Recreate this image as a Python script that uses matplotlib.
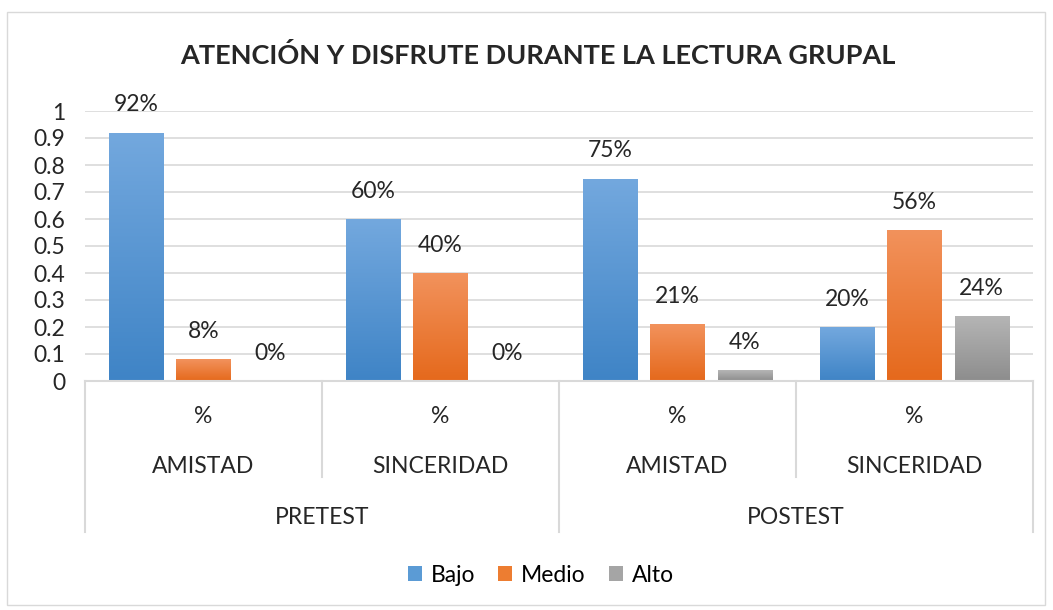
import numpy as np
import matplotlib.pyplot as plt
from matplotlib.patches import Rectangle
from matplotlib.colors import LinearSegmentedColormap

plt.rcParams['font.family'] = ['Lato', 'DejaVu Sans']

# data
groups = ["PRETEST", "POSTEST"]
subcats = ["AMISTAD", "SINCERIDAD", "AMISTAD", "SINCERIDAD"]
series = ["Bajo", "Medio", "Alto"]
bajo = [0.92, 0.60, 0.75, 0.20]
medio = [0.08, 0.40, 0.21, 0.56]
alto = [0.00, 0.00, 0.04, 0.24]
yticks = [0, 0.1, 0.2, 0.3, 0.4, 0.5, 0.6, 0.7, 0.8, 0.9, 1]

# colours (top, bottom) of each bar gradient
grads = [("#73a8de", "#3f84c6"), ("#f2925c", "#e5691c"), ("#b5b5b5", "#8d8d8d")]
solid = ["#5b9bd5", "#ed7d31", "#a5a5a5"]
tc = "#262626"
fs = 16.5

W, H = 1053, 610
fig = plt.figure(figsize=(W / 100, H / 100), dpi=100)
fig.patches.append(Rectangle((7 / W, 5 / H), 1038 / W, 593 / H, transform=fig.transFigure,
                             fill=False, edgecolor="#d9d9d9", linewidth=1))

ax = fig.add_axes([85 / W, (H - 381) / H, 948 / W, 270 / H])
n = len(subcats)
x = np.arange(n)
bw = 0.228
step = 0.283

for k, vals in enumerate([bajo, medio, alto]):
    cmap = LinearSegmentedColormap.from_list("g", [grads[k][1], grads[k][0]])
    for i, v in enumerate(vals):
        xc = x[i] + (k - 1) * step
        if v > 0:
            r = Rectangle((xc - bw / 2, 0), bw, v, facecolor="none", edgecolor="none")
            ax.add_patch(r)
            im = ax.imshow(np.linspace(0, 1, 100).reshape(-1, 1), cmap=cmap, origin="lower",
                           extent=[xc - bw / 2, xc + bw / 2, 0, v], aspect="auto", zorder=2)
            im.set_clip_path(r)
        ax.annotate(f"{round(v * 100)}%", (xc, v), xytext=(0, 20), textcoords="offset points",
                    ha="center", va="center", fontsize=fs, color=tc)

ax.set_aspect("auto")
ax.set_xlim(-0.5, n - 0.5)
ax.set_ylim(0, 1)
ax.set_yticks(yticks)
ax.set_yticklabels([f"{t:g}" for t in yticks], fontsize=fs, color=tc)
ax.tick_params(axis="y", length=0, pad=14)
ax.set_xticks([])
ax.grid(axis="y", color="#d9d9d9", linewidth=1.2, zorder=0)
ax.set_axisbelow(True)
for s in ax.spines.values():
    s.set_visible(False)

# multi-level category axis
tr = ax.get_xaxis_transform()
lc = "#d9d9d9"
ax.plot([-0.5, n - 0.5], [0, 0], color=lc, lw=1.5, transform=tr, clip_on=False)
for b in [-0.5, 1.5, 3.5]:
    ax.plot([b, b], [0, -0.559], color=lc, lw=1.5, transform=tr, clip_on=False)
for b in [0.5, 2.5]:
    ax.plot([b, b], [0, -0.356], color=lc, lw=1.5, transform=tr, clip_on=False)
for i, c in enumerate(subcats):
    ax.text(x[i], -0.133, "%", transform=tr, ha="center", va="center", fontsize=fs, color=tc)
    ax.text(x[i], -0.315, c, transform=tr, ha="center", va="center", fontsize=fs, color=tc)
for j, g in enumerate(groups):
    ax.text(2 * j + 0.5, -0.507, g, transform=tr, ha="center", va="center", fontsize=fs, color=tc)

fig.text(538 / W, 1 - 55 / H, "ATENCIÓN Y DISFRUTE DURANTE LA LECTURA GRUPAL",
         ha="center", va="center", fontsize=19.5, fontweight="bold", color=tc)

handles = [Rectangle((0, 0), 1, 1, facecolor=c) for c in solid]
fig.legend(handles, series, loc="center", bbox_to_anchor=(541 / W, 1 - 575 / H), ncol=3,
           frameon=False, fontsize=fs, handlelength=0.6, handleheight=0.6,
           handletextpad=0.4, columnspacing=1.0)

fig.savefig("out.png", dpi=100)
